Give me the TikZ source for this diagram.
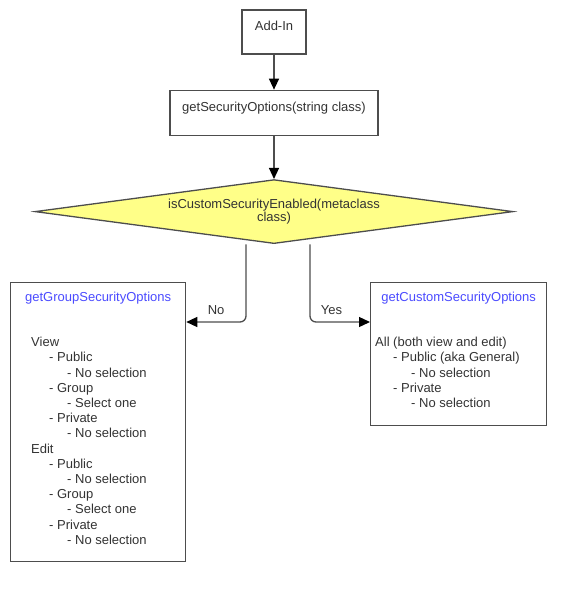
\documentclass[tikz,border=0pt]{standalone}
\usepackage{fontspec}
\setmainfont{Liberation Sans}
\usepackage{xcolor}
\usepackage{tikz}
\usetikzlibrary{arrows.meta, positioning, shapes.geometric, calc}
\definecolor{txtgray}{HTML}{333333}
\definecolor{linegray}{HTML}{4D4D4D}
\definecolor{ttlblue}{HTML}{4B4BFF}
\definecolor{decyellow}{HTML}{FFFF88}
\tikzset{
  box/.style={rectangle, draw=linegray, line width=1.3pt, fill=white,
              text=txtgray, font=\fontsize{13}{15}\selectfont,
              align=center, text height=10pt, text depth=12pt, inner sep=0pt},
  decision/.style={diamond, draw=linegray, line width=1.3pt, fill=decyellow,
              text=txtgray, font=\fontsize{13}{13}\selectfont, align=center,
              aspect=7.5, minimum width=478pt, minimum height=64pt, inner sep=0pt},
  panel/.style={rectangle, draw=linegray, line width=1.3pt, fill=white,
              anchor=north west, inner sep=0pt},
  ttl/.style={font=\fontsize{13}{15}\selectfont, text=ttlblue, inner sep=0pt},
  listtext/.style={font=\fontsize{13}{15.2}\selectfont, text=txtgray,
              align=left, inner sep=0pt},
  arr/.style={-{Triangle[length=11pt, width=10pt, color=black]}, line width=1.3pt, linegray},
  elbow/.style={arr, rounded corners=6pt},
  lbl/.style={font=\fontsize{13}{15}\selectfont, text=txtgray, inner sep=0pt},
}

\begin{document}
\begin{tikzpicture}[x=1pt, y=-1pt]
  \useasboundingbox (0,0) rectangle (586,602);
  %% main column
  \node[box, minimum width=64pt, minimum height=44pt] (addin) at (274,32) {Add-In};
  \node[box, minimum width=208pt, minimum height=45pt, below=35pt of addin] (getopts)
    {getSecurityOptions(string class)};
  \node[decision, below=43pt of getopts] (enabled)
    {isCustomSecurityEnabled(metaclass\\class)};
  \draw[arr] (addin) -- (getopts);
  \draw[arr] (getopts) -- (enabled);
  %% group options
  \node[panel, minimum width=175pt, minimum height=279pt] (grp) at (10,282) {};
  \node[ttl, below=10pt of grp.north] (grpttl) {getGroupSecurityOptions};
  \node[listtext, below right=55pt and 21pt of grp.north west] (grplist)
    {View\\
     \hspace*{18pt}- Public\\
     \hspace*{36pt}- No selection\\
     \hspace*{18pt}- Group\\
     \hspace*{36pt}- Select one\\
     \hspace*{18pt}- Private\\
     \hspace*{36pt}- No selection\\
     Edit\\
     \hspace*{18pt}- Public\\
     \hspace*{36pt}- No selection\\
     \hspace*{18pt}- Group\\
     \hspace*{36pt}- Select one\\
     \hspace*{18pt}- Private\\
     \hspace*{36pt}- No selection};
  %% custom options
  \node[panel, minimum width=176pt, minimum height=143pt] (cust) at (370,282) {};
  \node[ttl, below=10pt of cust.north] (custttl) {getCustomSecurityOptions};
  \node[listtext, below right=55pt and 5pt of cust.north west] (custlist)
    {All (both view and edit)\\
     \hspace*{18pt}- Public (aka General)\\
     \hspace*{36pt}- No selection\\
     \hspace*{18pt}- Private\\
     \hspace*{36pt}- No selection};
  %% branches
  \draw[elbow] ([xshift=-28pt]enabled.south) |- ([yshift=-40pt]grp.north east)
    node[lbl, pos=0.75, above=7pt] (nolbl) {No};
  \draw[elbow] ([xshift=36pt]enabled.south) |- ([yshift=-40pt]cust.north west)
    node[lbl, pos=0.68, above=7pt] (yeslbl) {Yes};
\end{tikzpicture}
\end{document}
